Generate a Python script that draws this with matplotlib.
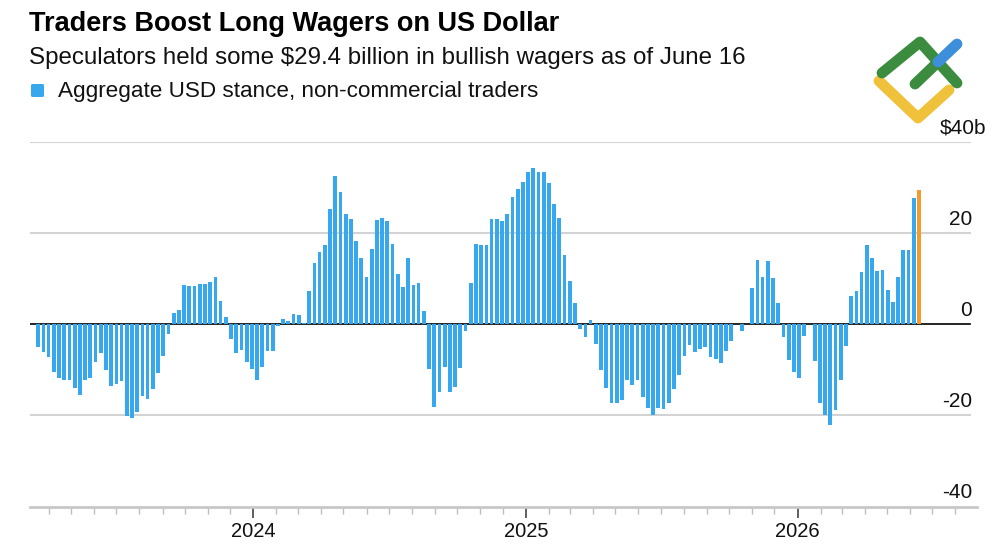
import numpy as np
import pandas as pd
import matplotlib
matplotlib.use("Agg")
import matplotlib.pyplot as plt
import matplotlib.dates as mdates
import matplotlib.transforms as mtransforms
from matplotlib.lines import Line2D
from matplotlib.patches import FancyBboxPatch

plt.rcParams["font.family"] = ["Liberation Sans", "DejaVu Sans"]

# weekly aggregate USD stance, $ billions
stance = [
    -4.9, -6.2, -7.2, -10.5, -11.9, -12.3, -12.2, -13.9, -15.5, -12.2,
    -11.8, -8.3, -6.4, -10.1, -13.5, -13.1, -12.5, -20.1, -20.6, -19.3,
    -15.8, -16.4, -14.3, -10.7, -7.0, -2.1, 2.5, 3.1, 8.6,
    8.3, 8.5, 8.9, 8.9, 9.3, 10.4, 5.0, 1.7, -3.2, -6.4,
    -5.6, -8.2, -9.9, -12.3, -9.4, -5.8, -5.8, -0.4, 1.2, 0.7,
    2.3, 2.0, 0.2, 7.4, 13.5, 15.9, 17.5, 25.3, 32.5,
    29.0, 24.2, 23.2, 18.2, 14.5, 10.4, 16.6, 22.8, 23.3, 22.7,
    17.7, 11.0, 8.2, 14.5, 8.7, 9.1, 2.9, -9.9, -18.2, -14.9,
    -9.4, -14.9, -13.8, -9.6, -1.5, 9.1, 17.7, 17.4, 17.5,
    23.1, 23.1, 22.6, 24.2, 28.0, 29.6, 31.2, 33.5, 34.4, 33.4,
    33.4, 30.9, 26.4, 23.3, 15.2, 9.5, 4.7, -1.0, -2.7, 1.0,
    -4.4, -10.1, -13.9, -17.2, -17.3, -16.6, -12.3, -13.4, -12.2, -16.0,
    -18.4, -19.9, -18.4, -18.5, -17.3, -14.2, -11.2, -6.9, -4.5, -6.1,
    -5.5, -5.0, -7.1, -7.7, -8.5, -5.8, -3.6,
    0.0, -1.5, 0.0, 7.9, 14.2, 10.4, 13.9, 10.1, 4.6, -2.7,
    -7.9, -10.5, -11.8, -2.6, 0.0, -8.0, -17.3, -19.9, -22.2,
    -18.8, -12.3, -4.7, 6.1, 7.4, 11.4, 17.4, 14.5, 11.6, 11.8,
    7.6, 4.9, 10.4, 16.4, 16.4, 27.7, 29.4,
]
weeks = pd.date_range(end="2026-06-13", periods=len(stance), freq="7D")

y_ticks = [-40, -20, 0, 20, 40]
y_labels = ["-40", "-20", "0", "20", "$40b"]

title = "Traders Boost Long Wagers on US Dollar"
subtitle = "Speculators held some $29.4 billion in bullish wagers as of June 16"
legend_label = "Aggregate USD stance, non-commercial traders"

blue = "#38a8ee"
orange = "#f59b2a"
colors = [blue] * (len(stance) - 1) + [orange]

W, H = 1000, 545
fig = plt.figure(figsize=(W / 100, H / 100), dpi=100)
ax = fig.add_axes([0.03, 38.5 / H, 0.947, 364.5 / H])


def px(x, y):
    return x / W, 1 - y / H


ax.bar(weeks, stance, width=5.0, color=colors, zorder=2)

for v in y_ticks[1:]:
    if v == 0:
        ax.axhline(0, color="black", lw=1.2, xmax=0.9926, zorder=1)
    else:
        ax.axhline(v, color="#d3d3d3", lw=1.5, xmax=0.9926, zorder=0)

lab_tr = mtransforms.blended_transform_factory(ax.transAxes, ax.transData)
for v, lab in zip(y_ticks, y_labels):
    xr = 1.0095 if lab.startswith("$") else 0.9947
    ax.text(xr, v + 1.8, lab, transform=lab_tr, ha="right", va="baseline",
            fontsize=15, color="#111111", clip_on=False)

ax.set_ylim(-40, 40)
ax.set_xlim(pd.Timestamp("2023-03-07"), pd.Timestamp("2026-08-30"))
ax.set_yticks([])

ax.xaxis.set_major_locator(mdates.YearLocator())
ax.xaxis.set_major_formatter(mdates.DateFormatter("%Y"))
ax.xaxis.set_minor_locator(mdates.MonthLocator())
ax.tick_params(axis="x", which="major", length=8, width=1.1, color="#333333",
               labelsize=14.5, pad=3, labelcolor="#111111")
ax.tick_params(axis="x", which="minor", length=5, width=1, color="#bdbdbd")

for side in ["top", "left", "right"]:
    ax.spines[side].set_visible(False)
ax.spines["bottom"].set_color("#c8c8c8")
ax.spines["bottom"].set_linewidth(2)

# header
fig.text(*px(29, 31), title, fontsize=19.5, fontweight="bold", ha="left",
         va="baseline", color="#000000")
fig.text(*px(29, 64), subtitle, fontsize=17.4, ha="left", va="baseline",
         color="#111111")
sq = FancyBboxPatch(px(31, 97), 13 / W, 13 / H, boxstyle="round,pad=0,rounding_size=0.002",
                    transform=fig.transFigure, color=blue, ec="none")
fig.add_artist(sq)
fig.text(*px(58, 97), legend_label, fontsize=16.2, ha="left", va="baseline",
         color="#111111")

# logo
strokes = [
    ([(879, 81), (918, 118), (949, 90)], "#f0c13a"),
    ([(882, 73), (920, 42), (957, 83)], "#3b8c3e"),
    ([(915, 84), (938, 62)], "#3b8c3e"),
    ([(938, 62), (957, 44)], "#3d8fdc"),
]
for pts, c in strokes:
    xs, ys = zip(*[px(x, y) for x, y in pts])
    fig.add_artist(Line2D(xs, ys, transform=fig.transFigure, color=c, lw=7.8,
                          solid_capstyle="round", solid_joinstyle="round"))

fig.savefig("out.png", dpi=100, facecolor="white")
